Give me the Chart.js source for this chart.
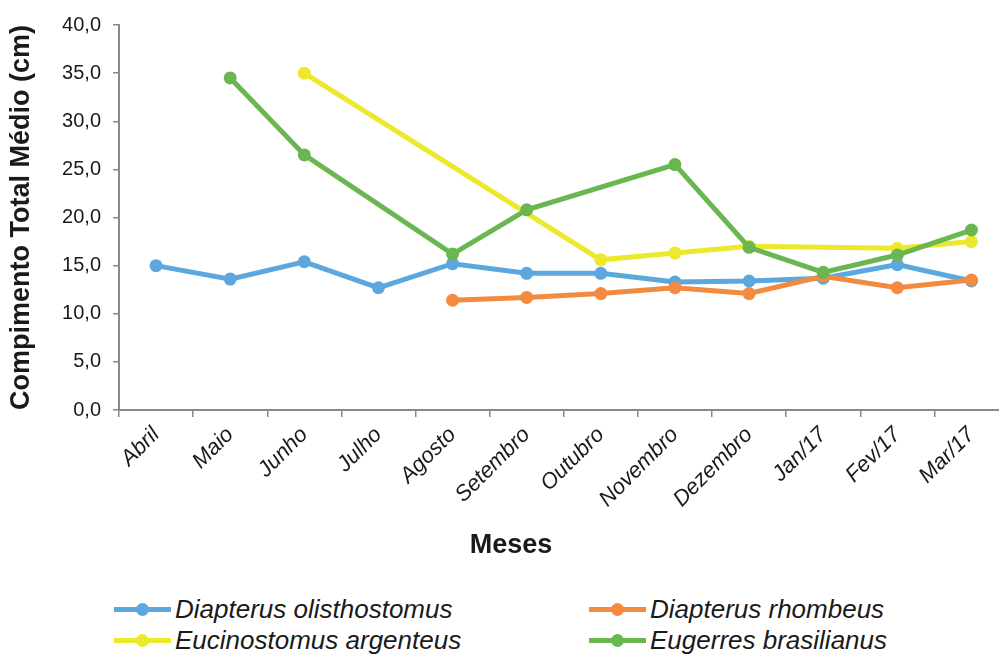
<!DOCTYPE html>
<html>
<head>
<meta charset="utf-8">
<script src="https://cdn.jsdelivr.net/npm/chart.js@4"></script>
<style>
  body { margin: 0; width: 999px; height: 657px; overflow: hidden; background: #fff; position: relative;
         font-family: "Liberation Sans", Arial, sans-serif; color: #1a1a1a; }
  #box { position: absolute; left: 0; top: 0; width: 1015px; height: 580px; }
  #xtitle { position: absolute; left: 0; width: 1022px; text-align: center; top: 529px; font-weight: bold; font-size: 27px; line-height: 31px; }
  .leg { position: absolute; font-style: italic; font-size: 26px; line-height: 30px; white-space: nowrap; }
  .leg i { display: inline-block; position: relative; width: 57px; height: 5px; vertical-align: middle; margin-right: 4px; top: -2px; }
  .leg i b { position: absolute; left: 22px; top: -4px; width: 13px; height: 13px; border-radius: 50%; background: inherit; }
</style>
</head>
<body>
<div id="box"><canvas id="myChart" width="1015" height="580"></canvas></div>
<div id="xtitle">Meses</div>
<div id="legend"></div>
<script>
let months = ["Abril", "Maio", "Junho", "Julho", "Agosto", "Setembro", "Outubro", "Novembro", "Dezembro", "Jan/17", "Fev/17", "Mar/17"];

let olisthostomus = [15.0, 13.6, 15.4, 12.7, 15.2, 14.2, 14.2, 13.3, 13.4, 13.7, 15.1, 13.4];
let rhombeus = [null, null, null, null, 11.4, 11.7, 12.1, 12.7, 12.1, 13.9, 12.7, 13.5];
let argenteus = [null, null, 35.0, null, null, null, 15.6, 16.3, 17.0, null, 16.8, 17.5];
let brasilianus = [null, 34.5, 26.5, null, 16.2, 20.8, null, 25.5, 16.9, 14.3, 16.1, 18.7];

let yMin = 0;
let yMax = 40;
let yStep = 5;

let species = ["Diapterus olisthostomus", "Diapterus rhombeus", "Eucinostomus argenteus", "Eugerres brasilianus"];
let colors = ["#5BA7DE", "#F28A3F", "#ECE82C", "#6AB651"];
let series = [olisthostomus, rhombeus, argenteus, brasilianus];

let datasets = series.map((vals, i) => {
  return {
    label: species[i],
    data: vals,
    borderColor: colors[i],
    backgroundColor: colors[i],
    borderWidth: 5,
    pointRadius: 6.5,
    pointBorderWidth: 0,
    pointBackgroundColor: colors[i],
    spanGaps: true,
    tension: 0,
    order: 4 - i,
  };
});

let axisColor = "#8a8a8a";
let ctx = document.getElementById("myChart").getContext("2d");
let myChart = new Chart(ctx, {
  type: "line",
  data: { labels: months, datasets: datasets },
  options: {
    responsive: false,
    animation: false,
    devicePixelRatio: 1,
    layout: { padding: { top: 25, right: 3, left: 0, bottom: 0 } },
    plugins: { legend: { display: false }, tooltip: { enabled: false } },
    scales: {
      x: {
        offset: true,
        grid: { offset: true, drawOnChartArea: false, drawTicks: true, tickLength: 7, color: axisColor, lineWidth: 1.5 },
        border: { color: axisColor, width: 2 },
        ticks: {
          color: "#1a1a1a",
          font: { family: "Liberation Sans", size: 22, style: "italic" },
          maxRotation: 45,
          minRotation: 45,
          autoSkip: false,
          padding: 5,
        },
        afterFit: (scale) => { scale.height = 170; },
      },
      y: {
        min: yMin,
        max: yMax,
        grid: { drawOnChartArea: false, drawTicks: true, tickLength: 6, color: axisColor, lineWidth: 1.5 },
        border: { color: axisColor, width: 2 },
        ticks: {
          stepSize: yStep,
          color: "#1a1a1a",
          font: { family: "Liberation Sans", size: 20 },
          padding: 12,
          callback: (v) => v.toFixed(1).replace(".", ","),
        },
        title: {
          display: true,
          text: "Compimento Total Médio (cm)",
          color: "#1a1a1a",
          font: { family: "Liberation Sans", size: 27, weight: "bold" },
          padding: { top: 5, bottom: 0 },
        },
        afterFit: (scale) => { scale.width = 119; },
      },
    },
  },
});

// legend in two columns, like the original
let legend = document.getElementById("legend");
let legPos = [[114, 594], [589, 594], [114, 625], [589, 625]];
species.forEach((name, i) => {
  let d = document.createElement("div");
  d.className = "leg";
  d.style.left = legPos[i][0] + "px";
  d.style.top = legPos[i][1] + "px";
  d.innerHTML = `<i style="background:${colors[i]}"><b></b></i>${name}`;
  legend.appendChild(d);
});
</script>
</body>
</html>
